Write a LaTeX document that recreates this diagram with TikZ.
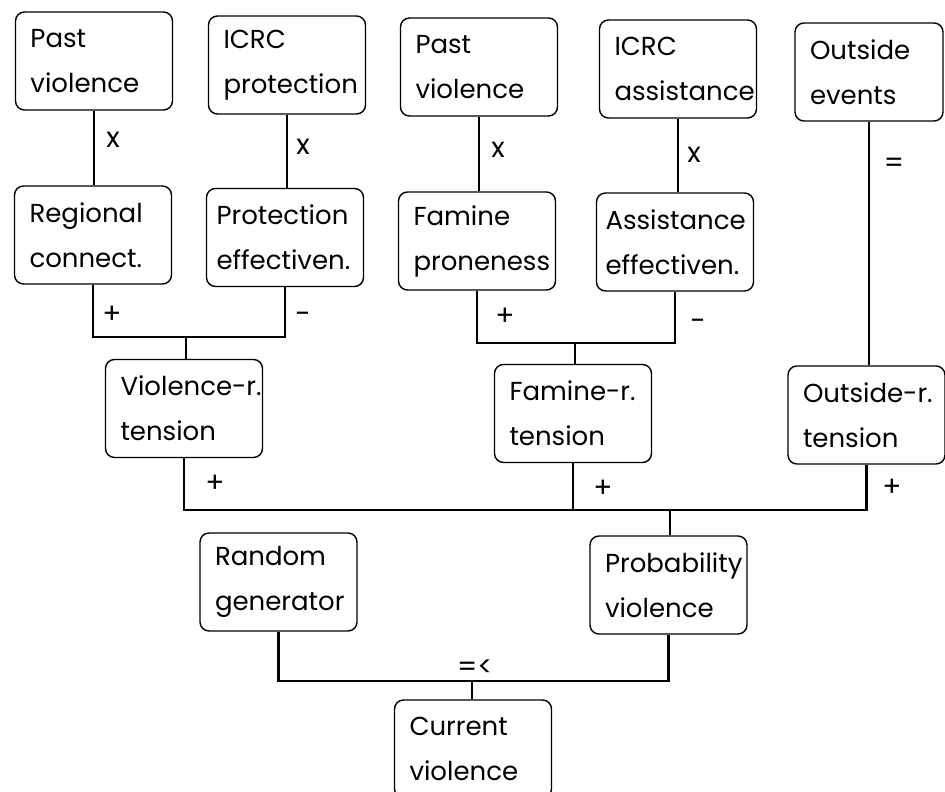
\documentclass[tikz,border=0pt]{standalone}
\usepackage{fontspec}
\setmainfont{Poppins}
\newcommand\myboxfont{\exhyphenpenalty=10000\relax\hyphenpenalty=10000\relax\hbadness=10000\relax\hfuzz=100pt\relax\fontsize{26}{45}\selectfont}
\newcommand\mylabfont{\fontsize{28}{28}\selectfont}
\begin{document}
\begin{tikzpicture}[x=1pt,y=-1pt,
 box/.style={draw, line width=1.4pt, rounded corners=9pt, minimum width=157pt, minimum height=98pt, inner xsep=15pt, text width=127pt, align=left, font=\myboxfont},
 conn/.style={line width=2.6pt},
 lab/.style={font=\mylabfont, inner sep=0pt}]
\useasboundingbox (0,0) rectangle (945,792);
\clip (0,0) rectangle (945,792);
\node[box] (pv1) at (94,61) {Past\\violence};
\node[box] (icp) at (287,65) {ICRC\\protection};
\node[box] (pv2) at (479,67) {Past\\violence};
\node[box] (ica) at (678,69) {ICRC\\assistance};
\node[box, minimum width=148pt, text width=118pt] (oe) at (869,72) {Outside\\events};
\node[box] (rc) at (93,235) {Regional\\connect.};
\node[box, inner xsep=9pt, text width=137pt] (pe) at (285,237.5) {Protection\\effectiven.};
\node[box] (fp) at (477,241) {Famine\\proneness};
\node[box, inner xsep=9pt, text width=139pt] (ae) at (675,242) {Assistance\\effectiven.};
\node[box] (vt) at (184,408.5) {Violence-r.\\tension};
\node[box] (ft) at (573,413.5) {Famine-r.\\tension};
\node[box] (ot) at (866.5,415) {Outside-r.\\tension};
\node[box] (rg) at (278.5,582) {Random\\generator};
\node[box] (pv) at (668.5,585) {Probability\\violence};
\node[box] (cv) at (473,749) {Current\\violence};
\coordinate (j1) at (186,337);
\coordinate (j2) at (575,343);
\coordinate (j3) at (670,510);
\coordinate (j4) at (472,681);
\draw[conn] (pv1.south) -- (pv1.south |- rc.north);
\draw[conn] (icp.south) -- (icp.south |- pe.north);
\draw[conn] (pv2.south) -- (pv2.south |- fp.north);
\draw[conn] (ica.south) -- (ica.south |- ae.north);
\draw[conn] (oe.south) -- (oe.south |- ot.north);
\draw[conn] (rc.south) |- (j1) -| (pe.south);
\draw[conn] (j1) -- (j1 |- vt.north);
\draw[conn] (fp.south) |- (j2) -| (ae.south);
\draw[conn] (j2) -- (j2 |- ft.north);
\draw[conn] (vt.south) |- (j3) -| (ot.south);
\draw[conn] (ft.south) -- (ft.south |- j3);
\draw[conn] (j3) -- (j3 |- pv.north);
\draw[conn] (rg.south) |- (j4) -| (pv.south);
\draw[conn] (j4) -- (j4 |- cv.north);
\node[lab] (l1) at (113,140) {x};
\node[lab] (l2) at (303,147) {x};
\node[lab] (l3) at (498,150) {x};
\node[lab] (l4) at (694,155) {x};
\node[lab] (l5) at (894,165) {=};
\node[lab] (l6) at (112,315) {+};
\node[lab] (l7) at (303,318) {-};
\node[lab] (l8) at (505,317) {+};
\node[lab] (l9) at (698,325) {-};
\node[lab] (l10) at (215,484) {+};
\node[lab] (l11) at (603,489) {+};
\node[lab] (l12) at (892,488) {+};
\node[lab] (l13) at (475,668) {=<};
\end{tikzpicture}
\end{document}
